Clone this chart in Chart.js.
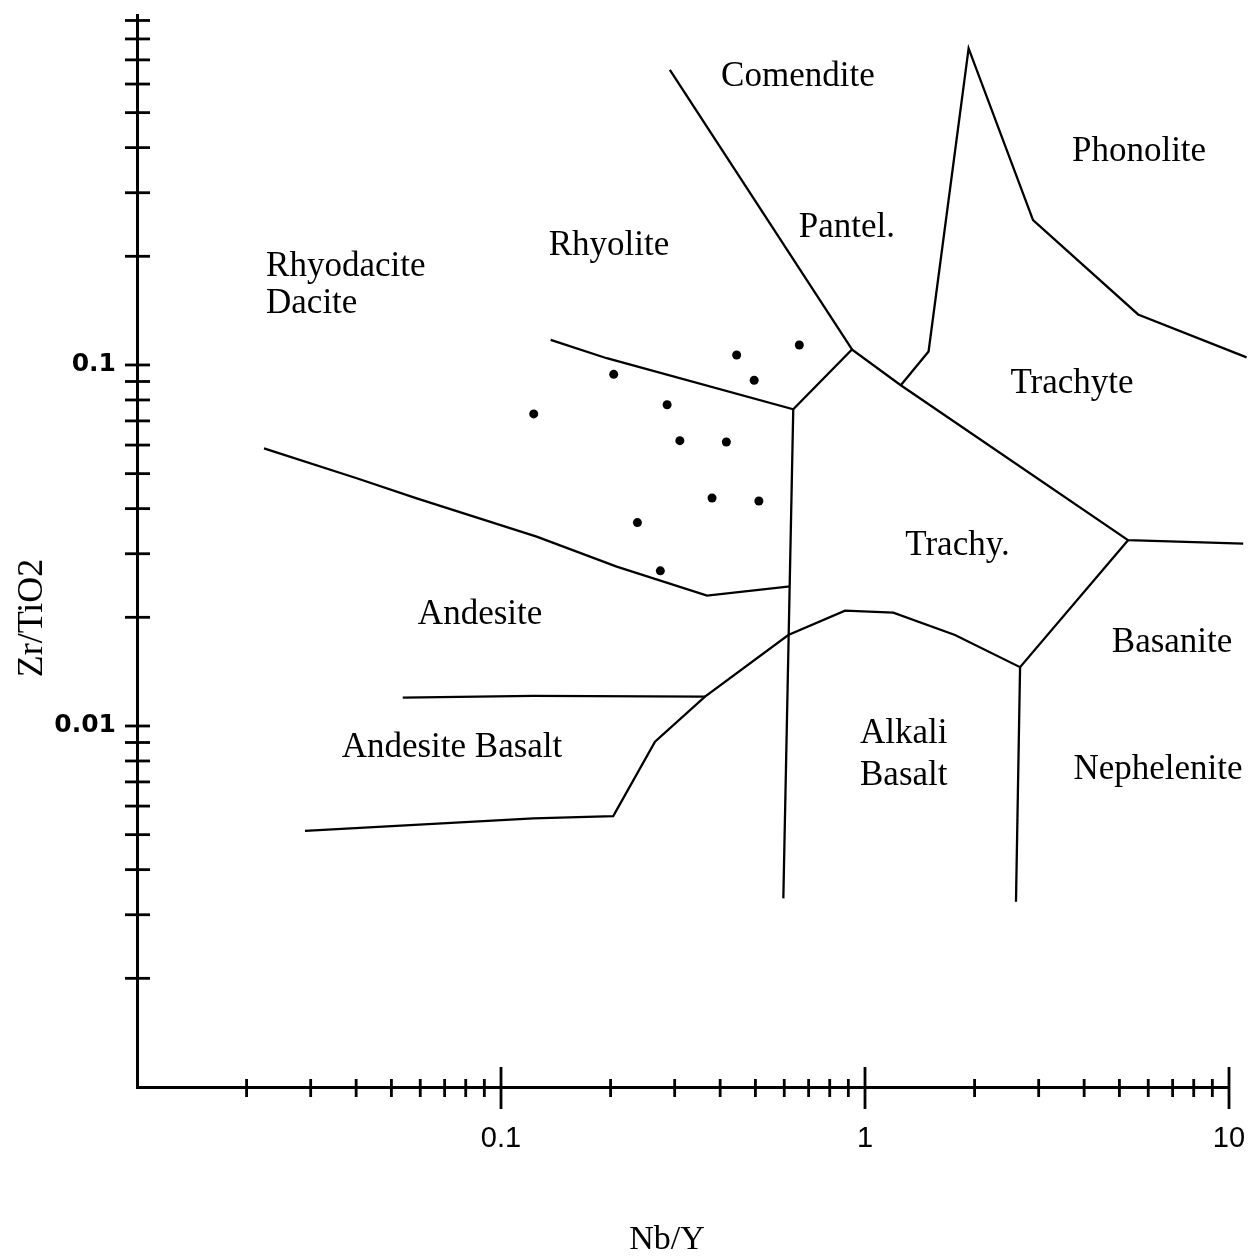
<!DOCTYPE html>
<html>
<head>
<meta charset="utf-8">
<title>Zr/TiO2 vs Nb/Y</title>
<script src="https://cdn.jsdelivr.net/npm/chart.js@4.4.1/dist/chart.umd.min.js"></script>
<style>
  html, body { margin: 0; padding: 0; background: #fff; }
  #wrap { width: 1254px; height: 1256px; }
</style>
</head>
<body>
<div id="wrap"><canvas id="chart" width="1254" height="1256"></canvas></div>
<script>
// ---- axis ticks (Nb/Y on x, Zr/TiO2 on y) ----
const xTickValues = [0.02, 0.03, 0.04, 0.05, 0.06, 0.07, 0.08, 0.09, 0.1,
                     0.2, 0.3, 0.4, 0.5, 0.6, 0.7, 0.8, 0.9, 1,
                     2, 3, 4, 5, 6, 7, 8, 9, 10];
const xLabelledTicks = [0.1, 1, 10];
const yTickValues = [0.002, 0.003, 0.004, 0.005, 0.006, 0.007, 0.008, 0.009, 0.01,
                     0.02, 0.03, 0.04, 0.05, 0.06, 0.07, 0.08, 0.09, 0.1,
                     0.2, 0.3, 0.4, 0.5, 0.6, 0.7, 0.8, 0.9];
const yLabelledTicks = [0.01, 0.1];

// ---- field boundaries ----
// Comendite/Pantellerite | Rhyolite
const comPantNbY  = [0.291, 0.921];
const comPantZrTi = [0.657, 0.1104];
// Pantellerite | Trachyte, Phonolite | Trachyte
const phonoliteNbY  = [1.254, 1.495, 1.926, 2.895, 5.627, 11.18];
const phonoliteZrTi = [0.0879, 0.109, 0.753, 0.252, 0.138, 0.105];
// Rhyolite | Rhyodacite, Rhyolite | Trachyandesite, Trachyte | Trachyandesite
const rhyoliteNbY  = [0.1369, 0.1952, 0.6352, 0.921, 1.254, 5.280, 10.94];
const rhyoliteZrTi = [0.1173, 0.1044, 0.0754, 0.1104, 0.0879, 0.0327, 0.0320];
// subalkaline | alkaline divide
const subalkNbY  = [0.6352, 0.5965];
const subalkZrTi = [0.0754, 0.00333];
// Rhyodacite-Dacite | Andesite
const andesiteNbY  = [0.02233, 0.04015, 0.05867, 0.1253, 0.2079, 0.3682, 0.6222];
const andesiteZrTi = [0.05877, 0.04855, 0.04272, 0.03345, 0.02762, 0.02298, 0.02437];
// Andesite | Andesite Basalt
const andBasNbY  = [0.0537, 0.1227, 0.3635];
const andBasZrTi = [0.01198, 0.01211, 0.01206];
// lower edge of Andesite Basalt, Trachyandesite | Alkali Basalt, Basanite
const basaltNbY  = [0.02894, 0.1227, 0.2034, 0.2649, 0.3635, 0.6156, 0.8812, 1.196, 1.767, 2.667, 5.280];
const basaltZrTi = [0.00512, 0.00555, 0.00563, 0.00905, 0.01206, 0.01787, 0.02087, 0.02060, 0.01787, 0.01455, 0.0327];
// Alkali Basalt | Basanite-Nephelinite
const nephNbY  = [2.667, 2.599];
const nephZrTi = [0.01455, 0.00326];

// ---- samples ----
const sampleNbY  = [0.660, 0.444, 0.496, 0.204, 0.123, 0.286, 0.310, 0.416, 0.380, 0.511, 0.237, 0.274];
const sampleZrTi = [0.1136, 0.1066, 0.0907, 0.0942, 0.0732, 0.0776, 0.0617, 0.0612, 0.0428, 0.0420, 0.0366, 0.0269];

// ---- field names ----
const fieldNames = ['Comendite', 'Phonolite', 'Pantel.', 'Rhyolite', 'Rhyodacite', 'Dacite',
                    'Trachyte', 'Trachy.', 'Andesite', 'Basanite', 'Andesite Basalt',
                    'Alkali', 'Basalt', 'Nephelenite'];
const fieldNbY   = [0.654, 5.66, 0.892, 0.198, 0.02262, 0.02262,
                    3.705, 1.795, 0.0876, 6.975, 0.0365,
                    0.969, 0.969, 6.38];
const fieldZrTi  = [0.628, 0.390, 0.2395, 0.2136, 0.1868, 0.1476,
                    0.0886, 0.0315, 0.0203, 0.0170, 0.00872,
                    0.00950, 0.00727, 0.00755];

const leftAligned = new Set(['Rhyodacite', 'Dacite', 'Andesite Basalt', 'Alkali', 'Basalt']);

function toPoints(xs, ys) { return xs.map((v, i) => ({ x: v, y: ys[i] })); }

function boundary(xs, ys) {
  return {
    type: 'line',
    data: toPoints(xs, ys),
    showLine: true,
    borderColor: '#000',
    borderWidth: 2.3,
    pointRadius: 0,
    pointHoverRadius: 0,
    fill: false,
    tension: 0,
    clip: false
  };
}

const axisDecor = {
  id: 'axisDecor',
  afterDraw(chart) {
    const { ctx, chartArea: a, scales: { x, y } } = chart;
    ctx.save();
    ctx.strokeStyle = '#000';
    ctx.lineWidth = 2.8;
    // crossing tick marks on the vertical axis
    for (const t of y.ticks) {
      const py = y.getPixelForValue(t.value);
      ctx.beginPath();
      ctx.moveTo(a.left - 12, py);
      ctx.lineTo(a.left + 13, py);
      ctx.stroke();
    }
    // crossing tick marks on the horizontal axis
    for (const t of x.ticks) {
      const px = x.getPixelForValue(t.value);
      const major = xLabelledTicks.includes(t.value);
      ctx.beginPath();
      ctx.moveTo(px, a.bottom - (major ? 20 : 8));
      ctx.lineTo(px, a.bottom + (major ? 22 : 10));
      ctx.stroke();
    }
    // field names
    ctx.fillStyle = '#000';
    ctx.font = '35px "Liberation Serif", "DejaVu Serif", serif';
    ctx.textBaseline = 'middle';
    fieldNames.forEach((name, i) => {
      ctx.textAlign = leftAligned.has(name) ? 'left' : 'center';
      ctx.fillText(name, x.getPixelForValue(fieldNbY[i]), y.getPixelForValue(fieldZrTi[i]));
    });
    // axis titles
    ctx.textAlign = 'center';
    ctx.font = '34px "Liberation Serif", "DejaVu Serif", serif';
    ctx.fillText('Nb/Y', (a.left + a.right) / 2 - 16, a.bottom + 153);
    ctx.translate(33, (a.top + a.bottom) / 2 + 67);
    ctx.rotate(-Math.PI / 2);
    ctx.font = '36px "Liberation Serif", "DejaVu Serif", serif';
    ctx.fillText('Zr/TiO2', 0, 0);
    ctx.restore();
  }
};

new Chart(document.getElementById('chart'), {
  type: 'scatter',
  data: {
    datasets: [
      boundary(comPantNbY, comPantZrTi),
      boundary(phonoliteNbY, phonoliteZrTi),
      boundary(rhyoliteNbY, rhyoliteZrTi),
      boundary(subalkNbY, subalkZrTi),
      boundary(andesiteNbY, andesiteZrTi),
      boundary(andBasNbY, andBasZrTi),
      boundary(basaltNbY, basaltZrTi),
      boundary(nephNbY, nephZrTi),
      {
        type: 'scatter',
        data: toPoints(sampleNbY, sampleZrTi),
        pointRadius: 4.5,
        pointHoverRadius: 4.5,
        pointBackgroundColor: '#000',
        pointBorderWidth: 0,
        showLine: false
      }
    ]
  },
  options: {
    responsive: false,
    devicePixelRatio: 1,
    animation: false,
    events: [],
    layout: { padding: { top: 15, right: 25, left: 0, bottom: 0 } },
    plugins: { legend: { display: false }, tooltip: { enabled: false }, title: { display: false } },
    scales: {
      x: {
        type: 'logarithmic',
        position: 'bottom',
        min: 0.01,
        max: 10,
        grid: { display: false, drawTicks: false },
        border: { display: true, color: '#000', width: 3 },
        afterBuildTicks(scale) { scale.ticks = xTickValues.map(v => ({ value: v })); },
        afterFit(scale) {
          scale.height = 169;
          scale.paddingLeft = 0; scale.paddingRight = 0;
        },
        ticks: {
          autoSkip: false,
          maxRotation: 0,
          minRotation: 0,
          padding: 35,
          color: '#000',
          font: { family: '"Liberation Sans", Arial, sans-serif', size: 29 },
          callback: (v) => xLabelledTicks.includes(v) ? String(v) : ''
        }
      },
      y: {
        type: 'logarithmic',
        position: 'left',
        min: 0.001,
        max: 0.932,
        grid: { display: false, drawTicks: false },
        border: { display: true, color: '#000', width: 3 },
        afterBuildTicks(scale) { scale.ticks = yTickValues.map(v => ({ value: v })); },
        afterFit(scale) {
          scale.width = 137;
          scale.paddingTop = 0; scale.paddingBottom = 0;
        },
        ticks: {
          autoSkip: false,
          padding: 21,
          color: '#000',
          font: { family: '"DejaVu Sans", sans-serif', size: 25, weight: 'bold' },
          callback: (v) => yLabelledTicks.includes(v) ? String(v) : ''
        }
      }
    }
  },
  plugins: [axisDecor]
});
</script>
</body>
</html>
